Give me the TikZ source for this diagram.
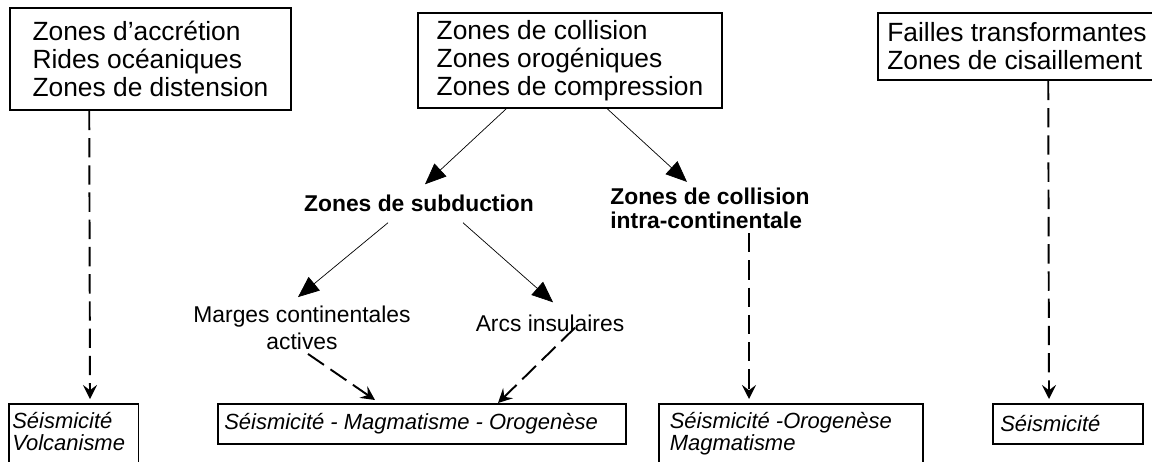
\documentclass[tikz,border=0pt]{standalone}
\usepackage{fontspec}
\setmainfont{Liberation Sans}
\usetikzlibrary{arrows.meta,calc,positioning}

\begin{document}
\begin{tikzpicture}[
    x=0.02cm, y=-0.02cm,
    zone/.style={rectangle,draw,line width=0.9pt,align=left,inner sep=0,
                 font=\fontsize{15}{16}\selectfont},
    zonelabel/.style={inner sep=0,align=left,
                 font=\bfseries\fontsize{13}{13.5}\selectfont},
    sublabel/.style={inner sep=0,align=center,
                 font=\fontsize{13}{15}\selectfont},
    effect/.style={rectangle,draw,line width=0.9pt,anchor=north west,
                 inner xsep=2pt,inner ysep=5pt,
                 font=\itshape\fontsize{12.5}{12.5}\selectfont},
    link/.style={-{Triangle[length=12pt,width=10pt]},thin},
    dlink/.style={-{Stealth[length=8pt,width=8pt,inset=3pt]},line width=1.1pt,
                 dash pattern=on 11pt off 4.5pt},
]

    \useasboundingbox (0,0) rectangle (1152,461);
    \clip (0,0) rectangle (1152,461);

    % zones du haut
    \node[zone, minimum width=5.62cm, minimum height=2.04cm] (zacc) at (150.5,59)
        {Zones d'accrétion\\Rides océaniques\\Zones de distension};
    \node[zone, minimum width=6.08cm, minimum height=1.9cm] (zcol) at (570,60.5)
        {Zones de collision\\Zones orogéniques\\Zones de compression};
    \node[zone, minimum width=5.56cm, minimum height=1.34cm] (fail) at (1017,46.5)
        {Failles transformantes\\Zones de cisaillement};

    \node[zonelabel] (subd) at (419,203) {Zones de subduction};
    \node[zonelabel, anchor=west] (coll) at (610,208.5)
        {Zones de collision\\intra-continentale};

    \node[sublabel] (marg) at (302,328) {Marges continentales\\actives};
    \node[sublabel] (arcs) at (550,323) {Arcs insulaires};

    % effets
    \node[effect] (sv) at (8,403)
        {\parbox[t][1.25cm][t]{2.45cm}{Séismicité\\Volcanisme}};
    \node[effect, minimum width=8.16cm, minimum height=0.8cm] (smm) at (217,403)
        {\parbox{7.9cm}{Séismicité - Magmatisme - Orogenèse}};
    \node[effect, inner xsep=0.22cm] (scom) at (658,403)
        {\parbox[t][1.25cm][t]{4.85cm}{Séismicité -Orogenèse\\Magmatisme}};
    \node[effect, minimum width=3cm, minimum height=0.8cm] (sd) at (992,403)
        {\parbox{2.7cm}{Séismicité}};

    \draw[link] ($(zcol.south west)+(89,0)$) -- ($(subd.north)+(6,-10)$);
    \draw[link] ($(zcol.south west)+(190,0)$) -- ($(coll.north west)+(77,-6)$);
    \draw[link] ($(subd.south)+(-31,11)$) -- ($(marg.north)+(-4,-9)$);
    \draw[link] ($(subd.south)+(44,11)$) -- ($(arcs.north)+(3,-12)$);

    \draw[dlink] ($(marg.south)+(6,4)$) -- ($(smm.north west)+(158,-3)$);
    \draw[dlink] ($(arcs.south)+(25,-4)$) -- ($(smm.north west)+(281,0)$);
    \draw[dlink] ($(zacc.south west)+(80,0)$) -- ($(sv.north west)+(82,-4)$);
    \draw[dlink] ($(coll.south west)+(139,4)$) -- ($(scom.north west)+(91,-4)$);
    \draw[dlink] ($(fail.south west)+(171,0)$) -- ($(sd.north west)+(57,-4)$);

\end{tikzpicture}
\end{document}
